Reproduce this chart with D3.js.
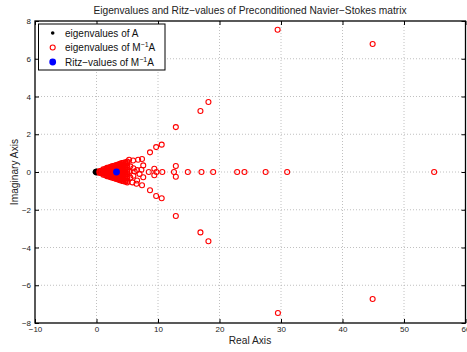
<!DOCTYPE html>
<html>
<head>
<meta charset="utf-8">
<script src="https://cdn.jsdelivr.net/npm/d3@7"></script>
<style>
  html, body { margin: 0; padding: 0; background: #fff; }
  svg { display: block; font-family: "Liberation Sans", Arial, Helvetica, sans-serif; }
</style>
</head>
<body>
<svg id="chart" width="467" height="352"></svg>
<script>
// Axis ticks
const xTicks = [-10, 0, 10, 20, 30, 40, 50, 60];
const yTicks = [-8, -6, -4, -2, 0, 2, 4, 6, 8];

// Eigenvalues of A: [real, imag]
const eigA = [
  [-0.25, 0], [-0.15, 0.04], [-0.15, -0.04], [-0.05, 0], [0.0, 0.06], [0.0, -0.06],
  [0.05, 0], [0.1, 0.05], [0.1, -0.05], [0.15, 0], [0.2, 0.03], [0.2, -0.03],
  [0.25, 0], [0.3, 0.02], [0.35, 0], [0.4, 0]
];

// Dense cluster of eigenvalues of M^-1 A: [real, [imag parts]]
const clusterRows = [
  [0.5, [0, 0.05, -0.05]],
  [0.8, [0, 0.06, -0.06]],
  [1.1, [0, 0.08, -0.08, 0.14, -0.14]],
  [1.4, [0, 0.08, -0.08, 0.16, -0.16]],
  [1.7, [0, 0.08, -0.08, 0.16, -0.16, 0.22, -0.22]],
  [2.0, [0, 0.08, -0.08, 0.16, -0.16, 0.24, -0.24]],
  [2.3, [0, 0.08, -0.08, 0.16, -0.16, 0.24, -0.24, 0.28, -0.28]],
  [2.6, [0, 0.08, -0.08, 0.16, -0.16, 0.24, -0.24, 0.31, -0.31]],
  [2.9, [0, 0.08, -0.08, 0.16, -0.16, 0.24, -0.24, 0.33, -0.33]],
  [3.2, [0, 0.08, -0.08, 0.16, -0.16, 0.24, -0.24, 0.32, -0.32, 0.37, -0.37]],
  [3.5, [0, 0.08, -0.08, 0.16, -0.16, 0.24, -0.24, 0.32, -0.32, 0.4, -0.4]],
  [3.8, [0, 0.08, -0.08, 0.16, -0.16, 0.24, -0.24, 0.32, -0.32, 0.4, -0.4, 0.44, -0.44]],
  [4.1, [0, 0.08, -0.08, 0.16, -0.16, 0.24, -0.24, 0.32, -0.32, 0.4, -0.4, 0.47, -0.47]],
  [4.4, [0, 0.08, -0.08, 0.16, -0.16, 0.24, -0.24, 0.32, -0.32, 0.4, -0.4, 0.49, -0.49]],
  [4.7, [0.05, -0.05, 0.15, -0.15, 0.25, -0.25, 0.35, -0.35, 0.45, -0.45, 0.52, -0.52]],
  [5.0, [0, 0.12, -0.12, 0.24, -0.24, 0.36, -0.36, 0.48, -0.48, 0.55, -0.55]]
];

// Remaining eigenvalues of M^-1 A: [real, imag]
const eigMAOuter = [
  [5.3, 0.03], [5.3, 0.65], [5.85, -0.55], [5.5, 0.3], [5.5, -0.3],
  [5.95, 0.61], [6.2, 0.03], [6.0, 0.2], [6.0, -0.2],
  [6.5, -0.62], [6.77, 0.65], [6.6, 0.1], [6.6, -0.45],
  [7.3, 0.12], [7.0, -0.1], [7.4, 0.69], [7.4, -0.7],
  [7.6, 0.35], [7.6, -0.28],
  [8.5, 0], [8.7, 1.04], [8.7, -0.97],
  [9.4, 0.17], [9.4, -0.17], [9.75, 0],
  [9.7, 1.32], [9.7, -1.27], [10.6, 1.45], [10.6, -1.39], [10.7, 0],
  [12.6, 0], [12.9, 0.32], [12.9, -0.25], [12.9, 2.38], [12.9, -2.33],
  [14.85, 0], [16.9, 3.23], [16.9, -3.2], [17.07, 0], [18.2, 3.71], [18.2, -3.67],
  [18.97, 0], [22.87, 0], [24.06, 0], [27.5, 0], [31.0, 0],
  [29.45, 7.54], [29.5, -7.47], [44.9, 6.78], [44.9, -6.73], [54.9, 0]
];

// Ritz values of M^-1 A: [real, imag]
const ritz = [[3.25, 0]];

const legendLabels = ["eigenvalues of A", "eigenvalues of M", "Ritz\u2212values of M"];

const eigMA = clusterRows.flatMap(([re, ims]) => ims.map(im => [re, im])).concat(eigMAOuter);

const svg = d3.select("#chart");
const plotLeft = 35, plotRight = 465.5, plotTop = 21, plotBottom = 323;

const x = d3.scaleLinear().domain([-10, 60]).range([plotLeft, plotRight]);
const y = d3.scaleLinear().domain([-8, 8]).range([plotBottom, plotTop]);

const fmt = d => (d < 0 ? "\u2212" + Math.abs(d) : String(d));

// Dotted grid
const grid = svg.append("g");
grid.selectAll("line.gx").data(xTicks.slice(1, -1)).join("line")
  .attr("x1", d => x(d)).attr("x2", d => x(d)).attr("y1", plotTop).attr("y2", plotBottom)
  .attr("stroke", "#b0b0b0").attr("stroke-width", 0.8).attr("stroke-dasharray", "1,2");
grid.selectAll("line.gy").data(yTicks.slice(1, -1)).join("line")
  .attr("y1", d => y(d)).attr("y2", d => y(d)).attr("x1", plotLeft).attr("x2", plotRight)
  .attr("stroke", "#b0b0b0").attr("stroke-width", 0.8).attr("stroke-dasharray", "1,2");

// Axes with inward ticks
const axisStyle = g => {
  g.select(".domain").remove();
  g.selectAll(".tick line").attr("stroke", "#000");
  g.selectAll(".tick text").attr("fill", "#222").style("font-size", "8px")
    .style("font-family", "'Liberation Sans', Arial, sans-serif");
};
svg.append("g").attr("transform", `translate(0,${plotBottom})`)
  .call(d3.axisBottom(x).tickValues(xTicks).tickFormat(fmt).tickSizeInner(-4).tickPadding(3))
  .call(axisStyle);
svg.append("g").attr("transform", `translate(0,${plotTop})`)
  .call(d3.axisTop(x).tickValues(xTicks).tickFormat("").tickSizeInner(-4))
  .call(axisStyle);
svg.append("g").attr("transform", `translate(${plotLeft},0)`)
  .call(d3.axisLeft(y).tickValues(yTicks).tickFormat(fmt).tickSizeInner(-4).tickPadding(4))
  .call(axisStyle);
svg.append("g").attr("transform", `translate(${plotRight},0)`)
  .call(d3.axisRight(y).tickValues(yTicks).tickFormat("").tickSizeInner(-4))
  .call(axisStyle);

// Frame
svg.append("rect").attr("x", plotLeft).attr("y", plotTop)
  .attr("width", plotRight - plotLeft).attr("height", plotBottom - plotTop)
  .attr("fill", "none").attr("stroke", "#000").attr("stroke-width", 1.3);

// Data marks
svg.append("g").selectAll("circle").data(eigA).join("circle")
  .attr("cx", d => x(d[0])).attr("cy", d => y(d[1])).attr("r", 2.4).attr("fill", "#000");

svg.append("g").selectAll("circle").data(eigMA).join("circle")
  .attr("cx", d => x(d[0])).attr("cy", d => y(d[1])).attr("r", 2.5)
  .attr("fill", "none").attr("stroke", "#ff0000").attr("stroke-width", 1.1);

svg.append("g").selectAll("circle").data(ritz).join("circle")
  .attr("cx", d => x(d[0])).attr("cy", d => y(d[1])).attr("r", 3.4).attr("fill", "#0000ff");

// Titles
svg.append("text").attr("x", 250).attr("y", 13.5).attr("text-anchor", "middle")
  .attr("fill", "#222").style("font-size", "10.2px")
  .text("Eigenvalues and Ritz\u2212values of Preconditioned Navier\u2212Stokes matrix");
svg.append("text").attr("x", 250).attr("y", 344).attr("text-anchor", "middle")
  .attr("fill", "#222").style("font-size", "10.2px").text("Real Axis");
svg.append("text").attr("transform", "translate(18,172) rotate(-90)").attr("text-anchor", "middle")
  .attr("fill", "#222").style("font-size", "10.2px").text("Imaginary Axis");

// Legend
const lg = svg.append("g");
lg.append("rect").attr("x", 38.5).attr("y", 24).attr("width", 126.5).attr("height", 46)
  .attr("fill", "#fff").attr("stroke", "#000").attr("stroke-width", 1);
const rowsY = [33, 47.5, 62];
lg.append("circle").attr("cx", 52.7).attr("cy", rowsY[0]).attr("r", 1.8).attr("fill", "#000");
lg.append("circle").attr("cx", 52.7).attr("cy", rowsY[1]).attr("r", 2.5)
  .attr("fill", "none").attr("stroke", "#ff0000").attr("stroke-width", 1.1);
lg.append("circle").attr("cx", 52.7).attr("cy", rowsY[2]).attr("r", 3.4).attr("fill", "#0000ff");
legendLabels.forEach((lab, i) => {
  const t = lg.append("text").attr("x", 65).attr("y", rowsY[i] + 3.6)
    .attr("fill", "#111").style("font-size", "10px");
  t.append("tspan").text(lab);
  if (i > 0) {
    t.append("tspan").attr("dy", -4).style("font-size", "7px").text("\u22121");
    t.append("tspan").attr("dy", 4).text("A");
  }
});
</script>
</body>
</html>
